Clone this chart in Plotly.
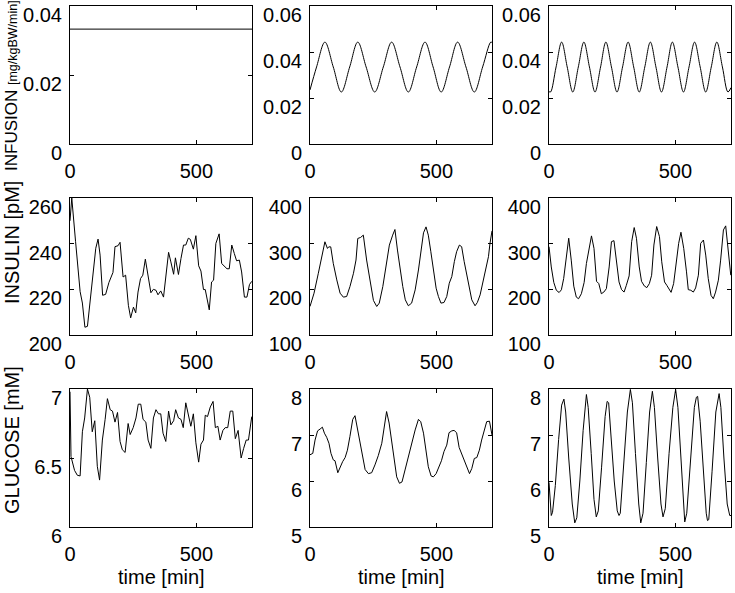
import plotly.graph_objects as go
from plotly.subplots import make_subplots

FONT = "Liberation Sans, Arial, sans-serif"

# ---- infusion [mg/kgBW/min] ----
t_inf_const = [0, 720]
inf_const = [0.0333, 0.0333]

t_inf_slow = [0, 26, 59, 92, 124, 157, 189, 222, 256, 290, 323, 356, 389, 422, 455,
              487, 519, 552, 584, 617, 650, 683, 715, 720]
inf_slow = [0.0235, 0.0335, 0.0443, 0.0335, 0.0226, 0.0335, 0.0443, 0.0335, 0.0226,
            0.0335, 0.0443, 0.0335, 0.0226, 0.0335, 0.0443, 0.0335, 0.0226, 0.0335,
            0.0443, 0.0335, 0.0226, 0.0335, 0.0443, 0.0441]

t_inf_fast = [0, 6, 28, 50, 72, 94, 116, 138, 160, 182, 204, 225, 247, 269, 291, 313,
              335, 357, 379, 401, 423, 445, 467, 488, 510, 532, 554, 576, 598, 620,
              642, 664, 686, 708, 720]
inf_fast = [0.0228, 0.0226, 0.0335, 0.0443, 0.0335, 0.0226, 0.0335, 0.0443, 0.0335,
            0.0226, 0.0335, 0.0443, 0.0335, 0.0226, 0.0335, 0.0443, 0.0335, 0.0226,
            0.0335, 0.0443, 0.0335, 0.0226, 0.0335, 0.0443, 0.0335, 0.0226, 0.0335,
            0.0443, 0.0335, 0.0226, 0.0335, 0.0443, 0.0335, 0.0226, 0.0245]

# ---- insulin [pM] ----
t_ins_const = [0, 7, 22, 40, 49, 59, 69, 82, 95, 102, 111, 119, 129, 141, 154, 164, 170,
               178, 190, 198, 210, 220, 231, 240, 251, 260, 269, 279, 288, 298, 309,
               320, 330, 340, 348, 359, 370, 379, 390, 399, 410, 417, 429, 439, 449,
               458, 468, 476, 488, 498, 509, 518, 528, 535, 551, 560, 568, 577, 590,
               600, 611, 621, 630, 640, 650, 659, 670, 679, 690, 700, 710, 719]
ins_const = [250, 260, 241, 219, 214, 203.4, 203.8, 217.4, 230.6, 238, 242, 235, 217.4,
             217.8, 223, 226.2, 227.4, 238.7, 239.1, 240.6, 225.4, 226.2, 213, 207.5,
             212.2, 209.7, 218.8, 224.7, 226.2, 233.2, 226.2, 218.5, 220, 219.6, 217.6,
             219.3, 216.6, 226.2, 236.2, 232, 226.6, 233.8, 226.5, 233.5, 239.4, 239.4,
             242.4, 241.9, 237.6, 243.5, 230.3, 228, 219.9, 219.9, 211, 223.2, 224,
             240.1, 244.3, 231.3, 229.9, 229, 229, 239.4, 235.7, 232.5, 232.8, 227.6,
             216.6, 216.6, 222.1, 223.5]

t_ins_slow = [0, 16, 33, 46, 59, 69, 74, 82, 92, 106, 119, 132, 145, 158, 172, 182, 189,
              200, 211, 224, 240, 251, 264, 274, 288, 301, 314, 327, 336, 346, 356, 367,
              377, 389, 402, 416, 429, 439, 449, 459, 468, 478, 488, 499, 508, 518, 530,
              541, 551, 561, 571, 580, 591, 600, 610, 620, 631, 640, 653, 662, 673, 683,
              697, 706, 712, 720]
ins_slow = [162.5, 191.6, 235.2, 267.8, 304.1, 289.6, 293, 293, 257, 220.6, 191.6, 182.9,
            184.3, 206, 235.2, 264.2, 311.4, 313.6, 318.7, 264.2, 206, 175.6, 162.5,
            169.8, 206, 249.7, 296.9, 318.7, 331, 286, 246, 206, 177, 164, 169.8, 198.8,
            242.4, 286, 323.7, 336.8, 318.7, 282.4, 242.4, 202.5, 184.3, 169.8, 171.2,
            184.3, 213.4, 227.9, 260.6, 282.4, 296.9, 293.3, 260.6, 231.5, 198.8, 177,
            164, 171.2, 187.9, 213.4, 246, 271.5, 300.5, 328]

t_ins_fast = [0, 9, 19, 29, 40, 49, 58, 69, 78, 88, 98, 108, 117, 128, 139, 148, 159, 168,
              178, 188, 197, 207, 217, 227, 238, 247, 257, 266, 277, 287, 297, 306, 317,
              327, 337, 346, 357, 366, 377, 387, 397, 406, 415, 426, 437, 446, 457, 466,
              476, 483, 493, 504, 513, 522, 533, 544, 551, 561, 571, 580, 591, 600, 611,
              620, 630, 641, 650, 659, 670, 679, 690, 699, 709, 719]
ins_fast = [293.4, 249, 215, 198, 193, 199, 223.5, 279, 312, 264, 207, 183, 179.4, 190.4,
            215, 256.6, 293.4, 317, 289.7, 217.6, 212.5, 190.4, 194, 201.5, 249, 304.4,
            306.6, 267.6, 216.2, 199.3, 194, 208.8, 229.4, 304.4, 335.3, 311.8, 249,
            217.6, 207.4, 203.7, 212.5, 230.9, 297, 337.5, 315.4, 260.3, 216.2, 208.8,
            198, 193.4, 212.5, 260.3, 300.7, 325, 289.7, 238.2, 199.3, 198, 194, 203,
            231, 300.7, 308, 275, 223.5, 186.8, 179.4, 194, 220, 264, 330, 339, 289.7,
            231]

# ---- glucose [mM] ----
t_glu_const = [0, 4, 18, 29, 40, 49, 58, 69, 78, 88, 98, 108, 117, 128, 139, 148, 159,
               168, 178, 188, 198, 207, 218, 230, 238, 250, 261, 270, 280, 289, 300, 309,
               320, 330, 340, 350, 359, 368, 379, 390, 399, 410, 418, 429, 439, 448, 458,
               468, 478, 488, 498, 509, 518, 528, 535, 544, 555, 566, 575, 585, 594, 605,
               614, 624, 634, 644, 654, 665, 677, 687, 697, 706, 719]
glu_const = [6.98, 6.51, 6.41, 6.375, 6.37, 6.69, 6.79, 7.0, 6.94, 6.69, 6.77, 6.44, 6.34,
             6.63, 6.78, 6.93, 6.85, 6.84, 6.76, 6.83, 6.62, 6.56, 6.54, 6.75, 6.67, 6.72,
             6.79, 6.89, 6.89, 6.78, 6.76, 6.63, 6.57, 6.79, 6.85, 6.82, 6.82, 6.68, 6.62,
             6.84, 6.74, 6.77, 6.85, 6.79, 6.78, 6.72, 6.90, 6.80, 6.73, 6.82, 6.61, 6.47,
             6.60, 6.63, 6.81, 6.80, 6.87, 6.91, 6.72, 6.73, 6.63, 6.70, 6.72, 6.72, 6.84,
             6.84, 6.64, 6.70, 6.50, 6.57, 6.63, 6.63, 6.80]

t_glu_slow = [0, 11, 20, 30, 40, 49, 57, 66, 75, 83, 92, 99, 110, 119, 129, 139, 148, 158,
              169, 178, 187, 198, 208, 218, 231, 244, 257, 270, 284, 293, 303, 313, 323,
              334, 343, 354, 364, 376, 389, 402, 416, 429, 438, 449, 459, 468, 479, 488,
              499, 509, 520, 530, 541, 550, 561, 570, 580, 590, 600, 610, 620, 631, 640,
              650, 660, 670, 679, 690, 699, 710, 720]
glu_slow = [6.57, 6.60, 6.89, 7.09, 7.13, 7.17, 7.04, 6.95, 6.82, 6.60, 6.46, 6.44, 6.18,
            6.31, 6.42, 6.51, 6.67, 6.97, 7.34, 7.42, 7.15, 6.82, 6.46, 6.25, 6.16, 6.18,
            6.35, 6.55, 6.82, 7.18, 7.51, 7.26, 6.86, 6.46, 6.09, 5.95, 5.98, 6.24, 6.53,
            6.78, 7.11, 7.34, 7.29, 7.04, 6.67, 6.31, 6.11, 6.09, 6.16, 6.31, 6.44, 6.64,
            6.78, 7.05, 7.09, 7.10, 7.05, 6.73, 6.60, 6.46, 6.31, 6.16, 6.27, 6.49, 6.51,
            6.67, 6.89, 7.11, 7.29, 7.30, 7.0]

t_glu_fast = [0, 9, 14, 25, 38, 50, 59, 66, 78, 92, 102, 110, 122, 135, 148, 155, 167, 178,
              187, 195, 208, 222, 230, 236, 245, 258, 270, 277, 282, 295, 310, 322, 330,
              342, 355, 363, 372, 385, 398, 409, 417, 430, 443, 451, 460, 475, 490, 501,
              510, 522, 532, 537, 545, 560, 575, 583, 588, 598, 610, 622, 627, 632, 645,
              660, 673, 680, 692, 705, 715, 720]
glu_fast = [5.97, 5.25, 5.32, 5.9, 6.9, 7.65, 7.78, 7.5, 6.5, 5.5, 5.09, 5.2, 6.0, 7.1,
            7.88, 7.6, 6.6, 5.6, 5.22, 5.35, 6.3, 7.4, 7.73, 7.70, 7.0, 6.0, 5.35, 5.25,
            5.3, 6.3, 7.5, 7.99, 7.7, 6.6, 5.5, 5.09, 5.3, 6.4, 7.5, 7.95, 7.6, 6.5, 5.5,
            5.22, 5.4, 6.6, 7.6, 7.99, 7.6, 6.5, 5.5, 5.11, 5.3, 6.5, 7.6, 7.82, 7.84, 7.3,
            6.2, 5.3, 5.14, 5.16, 6.2, 7.5, 7.90, 7.6, 6.5, 5.5, 5.25, 5.25]

# axis setup per panel: (range, tick values, tick labels)
y_setup = {
    (1, 1): ([0, 0.04], [0, 0.02, 0.04], ["0", "0.02", "0.04"]),
    (1, 2): ([0, 0.06], [0, 0.02, 0.04, 0.06], ["0", "0.02", "0.04", "0.06"]),
    (1, 3): ([0, 0.06], [0, 0.02, 0.04, 0.06], ["0", "0.02", "0.04", "0.06"]),
    (2, 1): ([200, 260], [200, 220, 240, 260], ["200", "220", "240", "260"]),
    (2, 2): ([100, 400], [100, 200, 300, 400], ["100", "200", "300", "400"]),
    (2, 3): ([100, 400], [100, 200, 300, 400], ["100", "200", "300", "400"]),
    (3, 1): ([6, 7], [6, 6.5, 7], ["6", "6.5", "7"]),
    (3, 2): ([5, 8], [5, 6, 7, 8], ["5", "6", "7", "8"]),
    (3, 3): ([5, 8], [5, 6, 7, 8], ["5", "6", "7", "8"]),
}

series = {
    (1, 1): (t_inf_const, inf_const, "linear"),
    (1, 2): (t_inf_slow, inf_slow, "spline"),
    (1, 3): (t_inf_fast, inf_fast, "spline"),
    (2, 1): (t_ins_const, ins_const, "linear"),
    (2, 2): (t_ins_slow, ins_slow, "linear"),
    (2, 3): (t_ins_fast, ins_fast, "linear"),
    (3, 1): (t_glu_const, glu_const, "linear"),
    (3, 2): (t_glu_slow, glu_slow, "linear"),
    (3, 3): (t_glu_fast, glu_fast, "linear"),
}

W, H = 735, 593
x_px = {1: (70, 252), 2: (310, 492), 3: (549, 731)}
y_px = {1: (6, 144), 2: (198, 335), 3: (389, 527)}

fig = make_subplots(rows=3, cols=3)

for (r, c), (t, v, shape) in series.items():
    fig.add_trace(
        go.Scatter(x=t, y=v, mode="lines", line={"color": "black", "width": 1, "shape": shape},
                   showlegend=False, hoverinfo="skip"),
        row=r, col=c,
    )

axis_common = dict(
    showline=True, linecolor="black", linewidth=1, mirror="ticks",
    ticks="inside", ticklen=4, tickwidth=1, tickcolor="black",
    showgrid=False, zeroline=False, automargin=False, ticklabeloverflow="allow",
    tickfont={"family": FONT, "size": 20, "color": "black"},
)

for r in (1, 2, 3):
    for c in (1, 2, 3):
        yr, yt, yl = y_setup[(r, c)]
        x0, x1 = x_px[c]
        top, bot = y_px[r]
        fig.update_xaxes(
            range=[0, 720], tickvals=[0, 500], ticktext=["0", "500"],
            domain=[x0 / W, x1 / W], ticklabelstandoff=9, **axis_common,
            row=r, col=c,
        )
        # the y labels sit a little below their ticks, as in the original
        fig.update_yaxes(
            range=yr, tickvals=yt, ticktext=yl,
            domain=[1 - bot / H, 1 - top / H], ticklabelshift=9, ticklabelstandoff=3,
            **axis_common, row=r, col=c,
        )

annotations = [
    dict(text="INFUSION <span style='font-size:12.5px'>[mg/kgBW/min]</span>",
         x=11 / W, y=1 - 86 / H, textangle=-90, size=17),
    dict(text="INSULIN [pM]", x=12 / W, y=1 - 243 / H, textangle=-90, size=20),
    dict(text="GLUCOSE [mM]", x=12 / W, y=1 - 440 / H, textangle=-90, size=20),
]
for c in (1, 2, 3):
    x0, x1 = x_px[c]
    annotations.append(dict(text="time [min]", x=(x0 + x1) / 2 / W, y=1 - 577 / H,
                            textangle=0, size=20))

for a in annotations:
    size = a.pop("size")
    fig.add_annotation(xref="paper", yref="paper", showarrow=False,
                       xanchor="center", yanchor="middle",
                       font={"family": FONT, "size": size, "color": "black"}, **a)

fig.update_layout(
    width=W, height=H,
    margin={"l": 0, "r": 0, "t": 0, "b": 0},
    paper_bgcolor="white", plot_bgcolor="white",
    font={"family": FONT, "size": 20, "color": "black"},
)

# drop the default page margin so the figure sits at the window's top-left corner
fig.write_html("out.html", config={"displayModeBar": False},
               post_script="document.body.style.margin = '0';")
